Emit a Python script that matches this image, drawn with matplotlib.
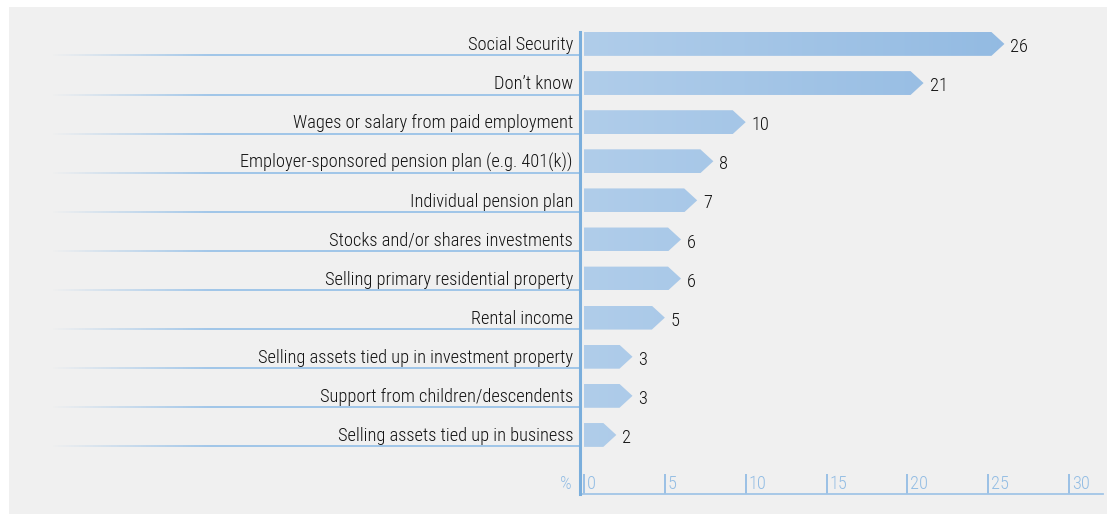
import numpy as np
import matplotlib
matplotlib.use("Agg")
import matplotlib.pyplot as plt
from matplotlib.patches import Polygon, Rectangle
from matplotlib.collections import LineCollection
from matplotlib.colors import LinearSegmentedColormap

plt.rcParams['font.family'] = ['Roboto Condensed', 'Archivo Narrow', 'DejaVu Sans']
plt.rcParams['font.weight'] = 'light'

categories = [
    "Social Security",
    "Don\u2019t know",
    "Wages or salary from paid employment",
    "Employer-sponsored pension plan (e.g. 401(k))",
    "Individual pension plan",
    "Stocks and/or shares investments",
    "Selling primary residential property",
    "Rental income",
    "Selling assets tied up in investment property",
    "Support from children/descendents",
    "Selling assets tied up in business",
]
values = [26, 21, 10, 8, 7, 6, 6, 5, 3, 3, 2]
xticks = [0, 5, 10, 15, 20, 25, 30]
unit_label = "%"

W, H = 1107, 514
fig = plt.figure(figsize=(W / 100, H / 100), dpi=100, facecolor="white")

# grey panel behind everything
fig.patches.append(Rectangle((9 / W, 0), 1 - 9 / W, 1 - 7 / H,
                             transform=fig.transFigure, facecolor="#f0f0f0",
                             edgecolor="none", zorder=-10))

ax = fig.add_axes([580 / W, 1 - 494 / H, 523 / W, 470 / H])
ax.set_facecolor("none")
px = 16.17  # pixels per percentage point

text_col = "#111111"
axis_blue = "#7aaedc"
light_blue = "#93bde4"
line_blue = "#a2c5e7"
fs = 13.2

half = 0.305
tip = 13 / px

cmap = LinearSegmentedColormap.from_list("bar", ["#b0cdea", "#92bae2"])
grad = np.linspace(0, 1, 256).reshape(1, -1)

for i, (cat, v) in enumerate(zip(categories, values)):
    poly = Polygon([(0, i - half), (v - tip, i - half), (v, i),
                    (v - tip, i + half), (0, i + half)],
                   closed=True, facecolor="none", edgecolor="none")
    ax.add_patch(poly)
    im = ax.imshow(grad, cmap=cmap, aspect="auto",
                   extent=(0, 27, i + half, i - half), zorder=2)
    im.set_clip_path(poly)
    ax.text(v + 6 / px, i + 0.08, str(v), ha="left", va="center",
            fontsize=fs, color=text_col)
    ax.text(-11 / px, i + 0.03, cat, ha="right", va="center",
            fontsize=fs, color=text_col, clip_on=False)
    # underline fading in from the left
    x0, x1 = (50 - 584) / px, -4 / px
    xs = np.linspace(x0, x1, 200)
    segs = [[(xs[k], i + 0.294), (xs[k + 1], i + 0.294)] for k in range(len(xs) - 1)]
    fade = np.clip((xs[:-1] - x0) / (160 / px), 0, 1)
    cols = [(0.60, 0.76, 0.91, a) for a in fade]
    ax.add_collection(LineCollection(segs, colors=cols, linewidths=1.3,
                                     clip_on=False, zorder=1))

ax.set_ylim(11.51, -0.51)
ax.set_xlim(-4 / px, (1103 - 584) / px)

for s in ["top", "right"]:
    ax.spines[s].set_visible(False)
ax.spines["left"].set_color(axis_blue)
ax.spines["left"].set_linewidth(2.2)
ax.spines["left"].set_bounds(11.51, -0.307)
ax.spines["left"].set_zorder(3)
ax.spines["bottom"].set_color(line_blue)
ax.spines["bottom"].set_linewidth(1.3)

ax.set_yticks([])
ax.set_xticks(xticks)
ax.set_xticklabels([])
ax.tick_params(axis="x", direction="in", length=14.5, width=1.3, color=light_blue)

tr = ax.get_xaxis_transform()
for t in xticks:
    ax.text(t + 3 / px, 10 / 470, str(t), transform=tr, ha="left", va="center",
            fontsize=fs, color=light_blue)
fig.text(572 / W, 1 - 484 / H, unit_label, ha="right", va="center",
         fontsize=fs, color=light_blue)

fig.savefig("out.png", dpi=100, facecolor="white")
